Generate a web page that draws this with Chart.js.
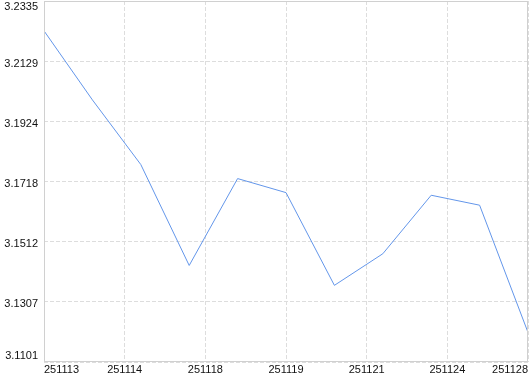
<!DOCTYPE html>
<html>
<head>
<meta charset="utf-8">
<script src="https://cdn.jsdelivr.net/npm/chart.js@4/dist/chart.umd.min.js"></script>
<style>
  html, body { margin: 0; padding: 0; background: #fff; }
  #wrap { width: 530px; height: 374px; position: relative; }
</style>
</head>
<body>
<div id="wrap"><canvas id="line_chart"></canvas></div>
<script>
// values, one per trading day (index 0..10)
const pointIndex = [0, 1, 2, 3, 4, 5, 6, 7, 8, 9, 10];
const prices = [3.2233, 3.1997, 3.1776, 3.1431, 3.1728, 3.1680, 3.1363, 3.1471, 3.1671, 3.1637, 3.1202];
const xTickLabels = ['251113', '251114', '251118', '251119', '251121', '251124', '251128'];
const yMin = 3.1101;
const yMax = 3.2335;
const yTickCount = 7;

const font = { family: '"Liberation Sans", Arial, sans-serif', size: 11 };
const gridColor = '#dddddd';
const textColor = '#111';

// y tick labels drawn by hand so the first/last can sit inside the plot
const yLabels = {
  id: 'yLabels',
  afterDraw(c) {
    const ctx = c.ctx;
    const y = c.scales.y;
    const area = c.chartArea;
    ctx.save();
    ctx.font = font.size + 'px ' + font.family;
    ctx.fillStyle = textColor;
    ctx.textAlign = 'right';
    y.ticks.forEach((t, i) => {
      const py = y.getPixelForValue(t.value);
      let yy = py + 2.5;
      ctx.textBaseline = 'middle';
      if (i === 0) { ctx.textBaseline = 'bottom'; yy = py - 0.5; }
      if (i === y.ticks.length - 1) { ctx.textBaseline = 'top'; yy = py + 0.5; }
      ctx.fillText(t.value.toFixed(4), 38, yy);
    });
    // plot frame
    ctx.strokeStyle = '#d0d0d0';
    ctx.lineWidth = 1;
    ctx.setLineDash([]);
    ctx.strokeRect(Math.round(area.left) + 0.5, Math.round(area.top) + 0.5,
      Math.round(area.right - area.left) - 1, Math.round(area.bottom - area.top) - 1);
    ctx.restore();
  }
};

const ctx = document.getElementById('line_chart').getContext('2d');
const chart = new Chart(ctx, {
  type: 'line',
  data: {
    datasets: [{
      data: pointIndex.map((x, i) => ({ x: x, y: prices[i] })),
      borderColor: '#6396ea',
      borderWidth: 1,
      pointRadius: 0,
      tension: 0,
      fill: false
    }]
  },
  options: {
    responsive: true,
    maintainAspectRatio: false,
    animation: false,
    layout: { padding: { top: 1, right: 2, left: 0, bottom: 0 } },
    plugins: { legend: { display: false }, tooltip: { enabled: false } },
    scales: {
      x: {
        type: 'linear',
        min: 0,
        max: pointIndex.length - 1,
        afterBuildTicks: s => {
          const n = xTickLabels.length;
          s.ticks = xTickLabels.map((l, i) => ({ value: i * (pointIndex.length - 1) / (n - 1) }));
        },
        afterFit: s => { s.height = 12; },
        ticks: {
          font: font,
          color: textColor,
          padding: 1,
          align: 'inner',
          maxRotation: 0,
          autoSkip: false,
          callback: (v, i) => xTickLabels[i]
        },
        grid: { color: gridColor, drawTicks: false },
        border: { display: false, dash: [4, 2] }
      },
      y: {
        min: yMin,
        max: yMax,
        afterBuildTicks: s => {
          const step = (yMax - yMin) / (yTickCount - 1);
          s.ticks = [];
          for (let i = 0; i < yTickCount; i++) s.ticks.push({ value: yMin + i * step });
        },
        afterFit: s => { s.width = 44; },
        ticks: { display: false },
        grid: { color: gridColor, drawTicks: false },
        border: { display: false, dash: [4, 2] }
      }
    }
  },
  plugins: [yLabels]
});
</script>
</body>
</html>
